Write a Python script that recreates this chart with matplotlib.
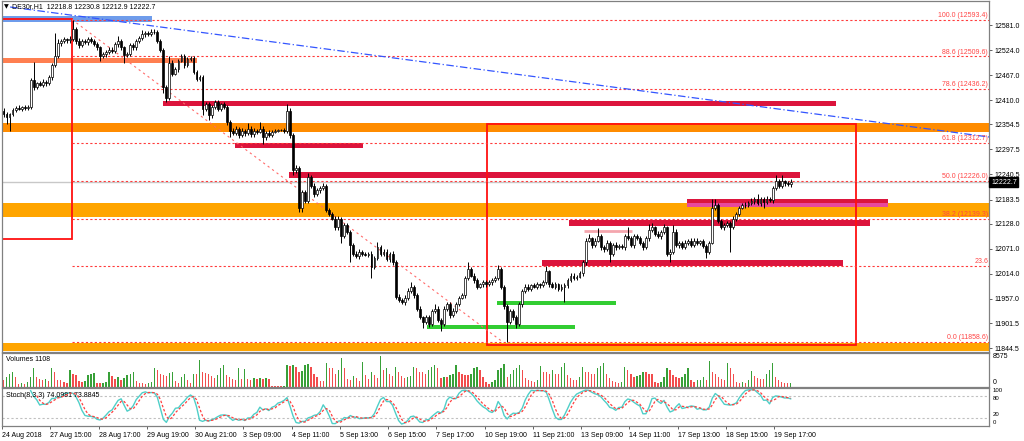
import matplotlib
matplotlib.use('Agg')
import matplotlib.pyplot as plt
import numpy as np
from matplotlib.patches import Rectangle

plt.rcParams['font.family'] = ['Liberation Sans', 'DejaVu Sans']

W, H = 1024, 441

# ---------------- data ----------------
symbol_title = 'DE30r,H1  12218.8 12230.8 12212.9 12222.7'
first_open = 12385.0
closes = [
    12378, 12372, 12378, 12388, 12393, 12390, 12394, 12392, 12395, 12455,
    12440, 12448, 12445, 12452, 12448, 12462, 12490, 12510, 12540, 12545,
    12548, 12546, 12550, 12572, 12545, 12535, 12545, 12542, 12548, 12544,
    12538, 12530, 12510, 12515, 12520, 12525, 12522, 12538, 12545, 12530,
    12512, 12515, 12535, 12530, 12545, 12552, 12560, 12563, 12560, 12565,
    12566, 12545, 12525, 12440, 12415, 12495, 12470, 12480, 12500, 12510,
    12490, 12503, 12505, 12475, 12458, 12462, 12390, 12400, 12375, 12395,
    12405, 12390, 12400, 12395, 12360, 12340, 12335, 12345, 12330, 12340,
    12335, 12345, 12332, 12340, 12338, 12345, 12325, 12335, 12330, 12338,
    12340, 12342, 12342, 12340, 12385, 12330, 12250, 12255, 12165, 12200,
    12180, 12235, 12215, 12195, 12205, 12210, 12215, 12160, 12150, 12140,
    12120, 12140, 12100, 12125, 12110, 12080, 12060, 12055, 12065, 12060,
    12058, 12060, 12030, 12050, 12075, 12060, 12065, 12048, 12060, 12040,
    11962, 11955, 11950, 11960, 11975, 11985, 11965, 11935, 11915, 11905,
    11915, 11900, 11930, 11935, 11910, 11900, 11935, 11945, 11920, 11930,
    11945, 11960, 11965, 12005, 12025, 12010, 12000, 11985, 11990, 11995,
    11990, 11995, 12000, 12005, 12025, 11985, 11940, 11905, 11930, 11915,
    11900, 11945, 11975, 11985, 11980, 11988, 11985, 11990, 11988, 11995,
    12020, 11990, 11985, 11990, 11980, 11985, 11988, 12000, 12010, 12005,
    12008, 12015, 12040, 12090, 12095, 12080, 12090, 12100, 12075, 12070,
    12085, 12060, 12080, 12075, 12078, 12075, 12100, 12095, 12080, 12100,
    12095, 12085, 12075, 12095, 12115, 12120, 12105, 12100, 12110, 12120,
    12060, 12065, 12110, 12080, 12085, 12075, 12085, 12090, 12080, 12090,
    12085, 12088, 12078, 12065, 12085, 12165, 12170, 12135, 12120, 12125,
    12130, 12120, 12140, 12150, 12165, 12170, 12172, 12175, 12180, 12185,
    12175, 12185, 12178, 12185, 12182, 12210, 12225, 12215, 12225, 12220,
    12218.8, 12222.7,
]
wick_up = [
    6, 4, 3, 5, 4, 6, 3, 5, 4, 5,
    42, 4, 6, 5, 3, 6, 5, 53, 10, 4,
    5, 4, 6, 21.4, 4, 6, 5, 4, 6, 5,
    4, 5, 3, 5, 4, 6, 5, 4, 10, 5,
    4, 5, 6, 4, 5, 4, 10, 5, 4, 6,
    5, 4, 5, 3, 4, 15, 6, 5, 4, 6,
    5, 4, 6, 5, 4, 6, 4, 5, 6, 4,
    6, 5, 4, 6, 4, 5, 6, 5, 4, 6,
    4, 13, 5, 6, 4, 15, 5, 4, 6, 3,
    3, 2, 3, 4, 15, 6, 5, 6, 4, 5,
    6, 8, 5, 6, 4, 5, 6, 4, 5, 6,
    5, 6, 4, 5, 6, 4, 5, 6, 5, 4,
    5, 4, 6, 5, 12, 4, 6, 5, 4, 6,
    5, 6, 4, 5, 6, 10, 4, 5, 6, 4,
    6, 5, 4, 10, 5, 4, 6, 5, 4, 6,
    5, 4, 6, 5, 15, 4, 6, 5, 4, 6,
    4, 6, 5, 4, 10, 5, 4, 6, 5, 4,
    6, 5, 4, 6, 5, 4, 6, 5, 4, 6,
    12, 4, 5, 6, 4, 5, 6, 4, 5, 6,
    4, 5, 6, 5, 10, 4, 6, 18, 5, 4,
    6, 5, 4, 6, 5, 4, 6, 20, 5, 4,
    5, 6, 4, 5, 13, 10, 4, 6, 5, 8,
    4, 5, 15, 6, 4, 5, 6, 4, 5, 6,
    5, 4, 6, 5, 4, 19, 15, 5, 4, 6,
    5, 4, 6, 5, 4, 6, 5, 4, 6, 5,
    10, 4, 5, 6, 4, 5, 14, 5, 15, 4,
    5, 8.1,
]
wick_dn = [
    6, 17, 32, 4, 5, 3, 6, 4, 5, 5,
    6, 5, 4, 6, 5, 4, 6, 5, 4, 6,
    4, 6, 5, 5, 8, 6, 4, 5, 6, 4,
    5, 6, 10, 4, 6, 5, 4, 5, 6, 5,
    17, 5, 4, 6, 5, 4, 5, 6, 4, 5,
    4, 6, 5, 15, 10, 5, 6, 4, 5, 4,
    6, 5, 4, 6, 5, 4, 15, 5, 10, 6,
    5, 4, 6, 5, 6, 15, 5, 4, 6, 5,
    6, 4, 5, 6, 5, 4, 15, 5, 4, 3,
    2, 3, 2, 5, 5, 6, 10, 5, 10, 10,
    5, 4, 6, 5, 4, 6, 5, 6, 5, 4,
    6, 5, 15, 4, 5, 40, 5, 4, 6, 5,
    4, 6, 25, 5, 4, 6, 5, 4, 6, 5,
    6, 5, 4, 6, 5, 4, 6, 5, 4, 15,
    5, 6, 4, 5, 6, 15, 4, 5, 6, 4,
    6, 5, 4, 6, 5, 4, 6, 5, 4, 5,
    5, 4, 6, 5, 4, 6, 5, 46.4, 6, 5,
    10, 5, 6, 4, 5, 6, 4, 5, 6, 4,
    5, 6, 4, 5, 6, 4, 35, 5, 4, 6,
    5, 4, 6, 5, 4, 6, 5, 4, 6, 5,
    4, 20, 5, 6, 4, 5, 6, 4, 5, 6,
    4, 5, 6, 4, 5, 6, 5, 4, 6, 5,
    6, 20, 5, 4, 6, 5, 4, 6, 5, 4,
    5, 6, 4, 15, 5, 4, 6, 5, 4, 6,
    5, 57, 4, 6, 5, 4, 6, 5, 4, 6,
    5, 6, 13, 4, 5, 6, 4, 5, 6, 5,
    4, 5.9,
]
volumes = [
    1800, 2700, 3600, 4100, 2700, 900, 1100, 900, 1300, 2700, 5000, 2700, 2200, 2000, 2200, 1600,
    5000, 3900, 2000, 1800, 1300, 1200, 4500, 3600, 3200, 1500, 1400, 1700, 3200, 3500, 3800,
    1200, 1000, 1100, 1300, 3900, 2900, 2200, 2600, 2000, 2500, 3200, 3600, 3900, 1500, 1200,
    1100, 900, 1000, 1300, 5000, 4500, 3600, 3300, 3000, 3800, 3900, 1600, 1200, 2600, 3500,
    1800, 1200, 3600, 3400, 7200, 4000, 3800, 3400, 3000, 2400, 3200, 5000, 5800, 3200, 2800,
    2200, 1800, 5000, 2200, 4900, 2200, 2000, 2500, 2200, 2300, 2100, 2400, 2200, 300, 200,
    200, 150, 300, 5800, 5500, 5900, 5400, 3900, 4200, 5800, 6100, 5400, 3600, 2800, 1700,
    1500, 6500, 5000, 5000, 3600, 4500, 7700, 5000, 2200, 2000, 2900, 2500, 1500, 6800, 3300,
    2200, 4000, 3200, 2500, 8300, 4500, 5000, 3600, 3000, 5400, 4000, 3000,
    2500, 2700, 3000, 5400, 5000, 4000, 4000, 3600, 4500, 5400, 5800, 5000, 2300, 2700, 2700,
    3200, 3600, 5800, 4000, 3600, 3200, 3200, 3500, 5000, 5400, 4500, 2700,
    1300, 900, 1300, 2000, 4500, 5000, 6100, 2700, 3600, 4500, 5000, 5800,
    4500, 2300, 2000, 1600, 1300, 2000, 5600, 4000, 4000, 3600, 4500, 3600,
    3600, 5400, 6500, 3200, 2300, 2000, 1800, 2700, 5400, 4000, 4000, 3600,
    3600, 5000, 5600, 6500, 3600, 2300, 1600, 1300, 1100, 1300, 5400, 4500,
    3600, 2700, 2900, 3200, 4000, 4000, 3600, 3600, 1300, 1100, 1300, 2700,
    5000, 4500, 3200, 2700, 2500, 2700, 3600, 5000, 1800, 1300, 1800, 2000,
    2700, 1800, 6900, 4000, 3600, 2700, 2200, 2000, 6500, 5000, 3600, 1300,
    1100, 1300, 1100, 1800, 4200, 2900, 2500, 2200, 2200, 3600, 4500, 6500,
    2700, 1800, 1300, 1100, 1000, 1108,
]

price_ticks = [12581.0, 12524.0, 12467.0, 12410.0, 12354.5, 12297.5, 12240.5,
               12183.5, 12128.0, 12071.0, 12014.0, 11957.0, 11901.5, 11844.5]
time_labels = ['24 Aug 2018', '27 Aug 15:00', '28 Aug 17:00', '29 Aug 19:00',
               '30 Aug 21:00', '3 Sep 09:00', '4 Sep 11:00', '5 Sep 13:00',
               '6 Sep 15:00', '7 Sep 17:00', '10 Sep 19:00', '11 Sep 21:00',
               '13 Sep 09:00', '14 Sep 11:00', '17 Sep 13:00', '18 Sep 15:00',
               '19 Sep 17:00']
bars_per_label = 16

fib_high, fib_low = 12593.4, 11858.6
fib_ratios = [100.0, 88.6, 78.6, 61.8, 50.0, 38.2, 23.6, 0.0]
fib_texts = ['100.0 (12593.4)', '88.6 (12509.6)', '78.6 (12436.2)', '61.8 (12312.7)',
             '50.0 (12226.0)', '38.2 (12139.3)', '23.6', '0.0 (11858.6)']
fib_bar_high, fib_bar_low = 22.7, 165.6

bid_price = 12222.7
trend_bars = [2.2, 326.75]
trend_prices = [12622.0, 12325.9]

END = 326.75  # right edge of chart (bars)
# zones: (start bar, end bar, upper price, lower price)
zones = [
    (-0.5, 49.2, 12601.5, 12587.8),
    (-0.5, 64.2, 12505.1, 12493.7),
    (52.9, 276.0, 12407.9, 12396.5),
    (-0.5, END, 12357.8, 12337.3),
    (76.8, 119.2, 12313.3, 12300.8),
    (94.7, 264.1, 12246.1, 12233.6),
    (-0.5, END, 12175.5, 12143.6),
    (226.6, 293.3, 12184.6, 12175.5),
    (226.6, 293.3, 12175.5, 12166.4),
    (187.5, 287.3, 12136.8, 12123.1),
    (178.5, 278.3, 12045.7, 12032.0),
    (163.6, 203.1, 11952.3, 11944.2),
    (140.4, 189.5, 11897.6, 11889.6),
    (-0.5, END, 11856.6, 11838.3),
]
zone_colors = ['#6E9CEB', '#FF7F50', '#DC143C', '#FF8C00', '#DC143C', '#DC143C',
               '#FFA500', '#DC143C', '#E8489C', '#DC143C', '#DC143C', '#32CD32',
               '#32CD32', '#FFA500']
boxes = [(-0.5, 22.7, 12594.7, 12094.6), (160.3, 282.7, 12355.5, 11852.0)]
pink_line = (192.5, 208.4, 12111.7)

vol_label = 'Volumes 1108'
vol_max_label = '8575'
stoch_label = 'Stoch(8,3,3) 74.0981 73.8845'

# ---------------- derived ----------------
n = len(closes)
c = np.array(closes, dtype=float)
o = np.array([first_open] + closes[:-1], dtype=float)
hi = np.maximum(o, c) + np.array(wick_up[:n], dtype=float)
lo = np.minimum(o, c) - np.array(wick_dn[:n], dtype=float)
x = np.arange(n)

# Stochastic (8,3,3)
K = np.full(n, np.nan)
for i in range(9, n):
    num = den = 0.0
    for j in range(i - 2, i + 1):
        l8 = lo[j - 7:j + 1].min()
        h8 = hi[j - 7:j + 1].max()
        num += c[j] - l8
        den += h8 - l8
    K[i] = 100 * num / den if den > 0 else 50
D = np.full(n, np.nan)
for i in range(11, n):
    D[i] = K[i - 2:i + 1].mean()

# ---------------- figure ----------------
fig = plt.figure(figsize=(W / 100, H / 100), dpi=100)


def px_rect(l, t, r, b):
    return [l / W, 1 - b / H, (r - l) / W, (b - t) / H]


ax = fig.add_axes(px_rect(2, 1, 989, 352))
axv = fig.add_axes(px_rect(2, 353, 989, 387))
axs = fig.add_axes(px_rect(2, 388, 989, 426))
XMIN, XMAX = -0.5, -0.5 + 987 / 3.016
for a in (ax, axv, axs):
    a.set_xlim(XMIN, XMAX)
    for s in a.spines.values():
        s.set_color('#808080')
        s.set_linewidth(0.9)
    a.set_facecolor('white')

ax.set_ylim(11836.1, 12635.7)

# zones
for (x0, x1, ptop, pbot), col in zip(zones, zone_colors):
    ax.add_patch(Rectangle((x0, pbot), x1 - x0, ptop - pbot, facecolor=col,
                           edgecolor='none', zorder=1))
ax.plot([pink_line[0], pink_line[1]], [pink_line[2], pink_line[2]],
        color='#F4A6AE', lw=2, zorder=1.2, solid_capstyle='butt')
for (x0, x1, ptop, pbot) in boxes:
    ax.add_patch(Rectangle((x0, pbot), x1 - x0, ptop - pbot, fill=False,
                           edgecolor='#FF1010', lw=1.3, zorder=2))

# bid line
ax.axhline(bid_price, color='#C8C8C8', lw=1.0, zorder=1.5)

# fibonacci
fib_levels = [fib_low + r / 100 * (fib_high - fib_low) for r in fib_ratios]
ax.hlines(fib_levels, fib_bar_high, XMAX, colors='#FF3B3B', linestyles=(0, (2, 2)),
          lw=0.8, zorder=2)
ax.plot([fib_bar_high, fib_bar_low], [fib_high, fib_low], color='#FF6A6A',
        ls=(0, (2, 3)), lw=0.8, zorder=2)
for lev, txt in zip(fib_levels, fib_texts):
    ax.text(XMAX - 0.3, lev + 1.5, txt, ha='right', va='bottom', fontsize=5,
            color='#FF4545', zorder=5)

# blue trend line
ax.plot(trend_bars, trend_prices, color='#3355FF', ls=(0, (6, 2, 1, 2)), lw=0.9, zorder=2)

# candles
ax.vlines(x, lo, hi, color='black', lw=0.7, zorder=3)
bull = c >= o
body_h = np.abs(c - o)
body_b = np.minimum(o, c)
ax.bar(x[bull], body_h[bull], bottom=body_b[bull], width=0.62, facecolor='white',
       edgecolor='black', lw=0.5, zorder=4)
ax.bar(x[~bull], body_h[~bull], bottom=body_b[~bull], width=0.62, facecolor='black',
       edgecolor='black', lw=0.5, zorder=4)

# price axis
ax.yaxis.tick_right()
ax.set_yticks(price_ticks)
ax.set_yticklabels(['%.1f' % p for p in price_ticks])
ax.tick_params(axis='y', length=2.5, width=0.7, colors='#606060', labelcolor='black',
               labelsize=5, pad=1.5)
ax.set_xticks([])

fig.text(991 / W, 1 - 182 / H, '%.1f' % bid_price, color='white', fontsize=5,
         va='center', ha='left',
         bbox=dict(facecolor='black', edgecolor='black', boxstyle='square,pad=0.25'))

fig.text(4 / W, 1 - 7 / H, '\u25BC', fontsize=4.5, va='center', ha='left',
         family=['DejaVu Sans'])
fig.text(12 / W, 1 - 7 / H, symbol_title, fontsize=5, va='center', ha='left')

# volumes
v = np.array(volumes[:n], dtype=float)
vcol = ['#F24D4D'] + ['#38A038' if v[i] > v[i - 1] else '#F24D4D' for i in range(1, n)]
axv.bar(x, v, width=0.45, color=vcol, zorder=2)
axv.set_ylim(0, 9111)
axv.set_xticks([])
axv.set_yticks([])
axv.text(0.004, 0.80, vol_label, transform=axv.transAxes, fontsize=5, va='center')
fig.text(993 / W, 1 - 357 / H, vol_max_label, fontsize=5, va='center')
fig.text(993 / W, 1 - 382 / H, '0', fontsize=5, va='center')

# stochastic
axs.set_ylim(-1.5, 100.5)
for lvl in (20, 80):
    axs.axhline(lvl, color='#C0C0C0', ls=(0, (2, 2)), lw=0.8, zorder=1)
axs.plot(x, K, color='#4FCFC8', lw=1.0, zorder=3)
axs.plot(x, D, color='#FF4040', ls=(0, (2, 1.5)), lw=0.9, zorder=4)
axs.set_yticks([])
axs.text(0.004, 0.80, stoch_label, transform=axs.transAxes, fontsize=5, va='center')
fig.text(993 / W, 1 - 391 / H, '100', fontsize=4.3, va='center')
fig.text(993 / W, 1 - 398.5 / H, '80', fontsize=4.3, va='center')
fig.text(993 / W, 1 - 415 / H, '20', fontsize=4.3, va='center')
fig.text(993 / W, 1 - 422.5 / H, '0', fontsize=4.3, va='center')

tick_pos = [XMIN + bars_per_label * k for k in range(len(time_labels))]
axs.set_xticks(tick_pos)
axs.set_xticklabels(time_labels)
axs.tick_params(axis='x', length=2.5, width=0.7, colors='#606060', labelcolor='black',
                labelsize=5, pad=1.5)
for lab in axs.get_xticklabels():
    lab.set_ha('left')

fig.savefig('out.png', dpi=100)
